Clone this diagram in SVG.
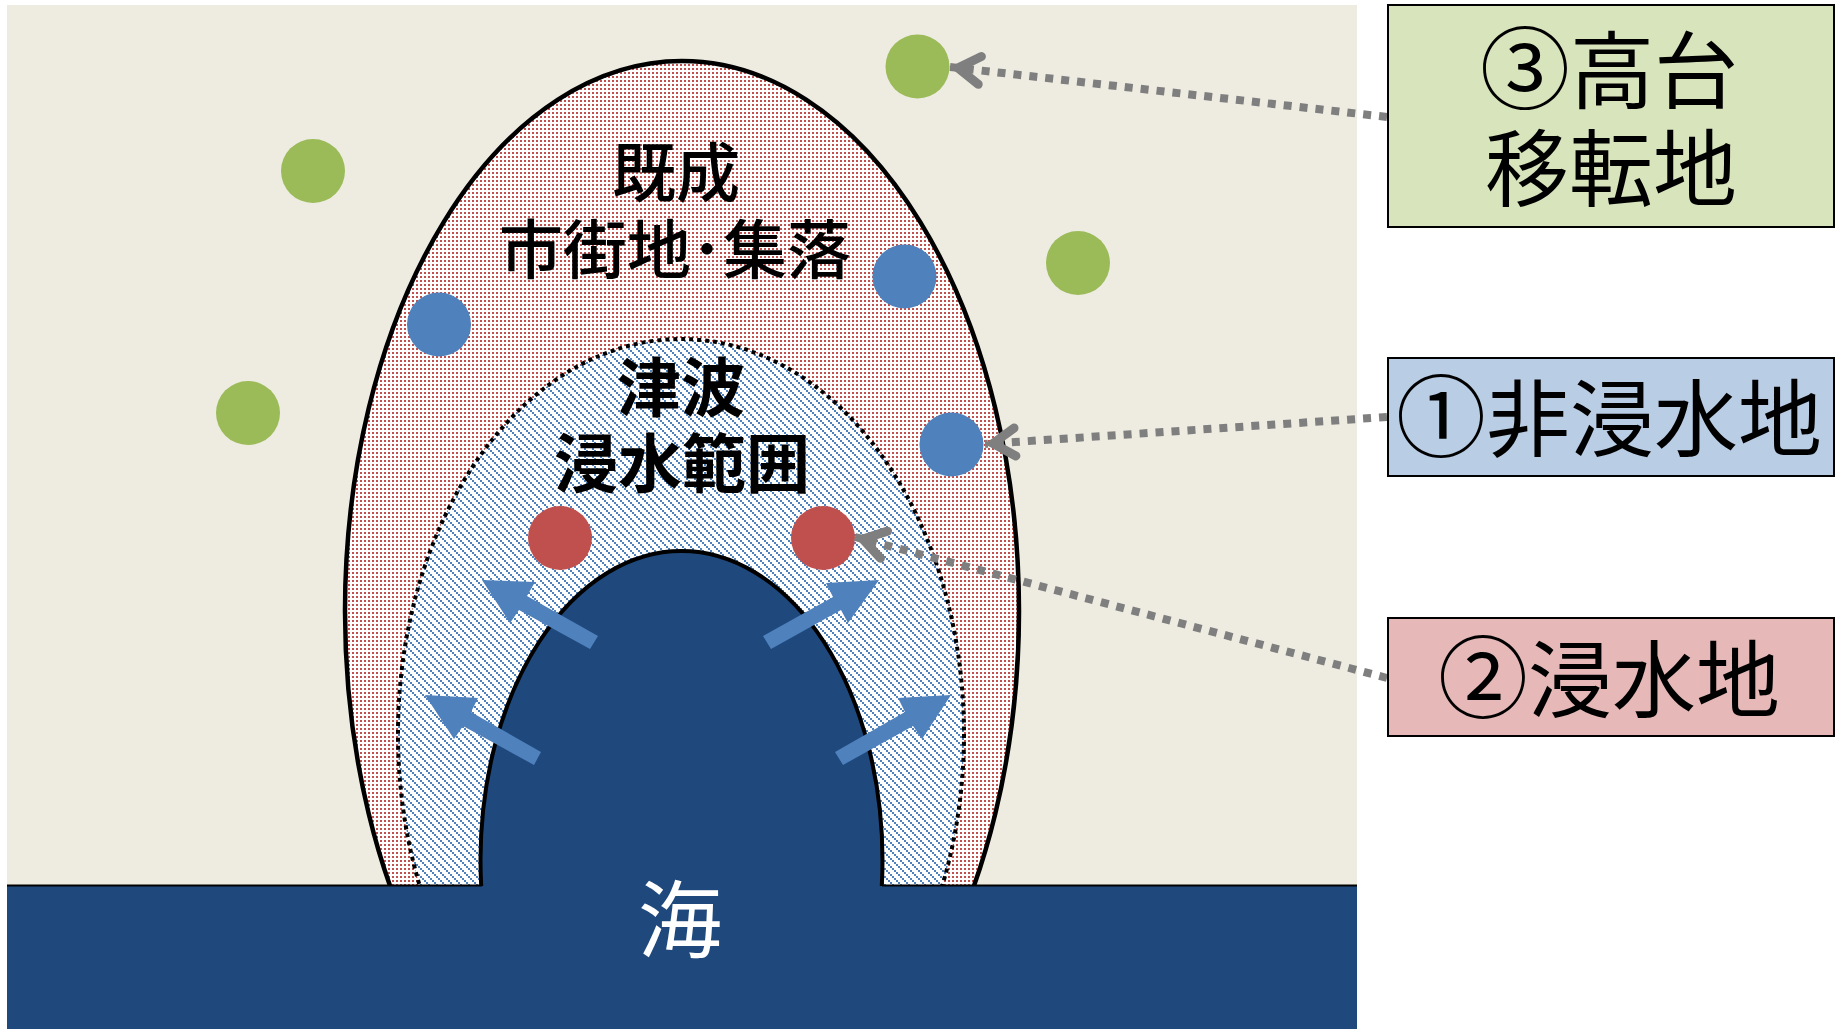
<svg xmlns="http://www.w3.org/2000/svg" width="1841" height="1029" viewBox="0 0 1841 1029">
<style>
.jp{font-family:"Noto Sans CJK JP","Noto Sans CJK SC",sans-serif;text-anchor:middle;fill:#000}
.lbl{font-size:84px}
.circ{font-size:90px}
.med{font-size:64px;font-weight:500}
.bold{font-size:64px;font-weight:700}
.box{stroke:#000;stroke-width:2}
.flow{fill:#4f81bd}
.conn{fill:none;stroke:#7f7f7f;stroke-width:8;stroke-dasharray:8 8;marker-end:url(#vee)}
.g{fill:#9bbb59}.b{fill:#4f81bd}.r{fill:#c0504d}
</style>
<defs>
<pattern id="dots" width="4" height="4" patternUnits="userSpaceOnUse">
<rect width="4" height="4" fill="#fff"/>
<rect x="0" y="0" width="2" height="2" fill="#c0504d"/>
</pattern>
<pattern id="hatch" width="8" height="8" patternUnits="userSpaceOnUse">
<rect width="8" height="8" fill="#fff"/>
<path d="M0 0h2v2h-2zM2 2h2v2h-2zM4 4h2v2h-2zM6 6h2v2h-2z" fill="#4f81bd"/>
</pattern>
<clipPath id="land"><rect x="0" y="0" width="1400" height="886"/></clipPath>
<marker id="vee" markerUnits="userSpaceOnUse" markerWidth="50" markerHeight="50" refX="0" refY="0" orient="auto" overflow="visible">
<path d="M-30 -14L-8 0L-30 14" fill="none" stroke="#7f7f7f" stroke-width="9" stroke-linecap="round" stroke-linejoin="miter" stroke-miterlimit="10"/>
</marker>
</defs>
<rect x="0" y="0" width="1841" height="1029" fill="#fff"/>
<g id="land-bg"><rect x="7" y="5" width="1350" height="881" fill="#eeece1"/></g>
<g id="town" clip-path="url(#land)">
<ellipse cx="682" cy="611" rx="337" ry="550" fill="url(#dots)" stroke="#000" stroke-width="4.500"/>
</g>
<g id="inundation" clip-path="url(#land)">
<ellipse cx="681" cy="734" rx="283" ry="395" fill="url(#hatch)" stroke="#000" stroke-width="4" stroke-dasharray="4 4"/>
</g>
<g id="bay" clip-path="url(#land)">
<ellipse cx="681.500" cy="860" rx="201" ry="309" fill="#1f497d" stroke="#000" stroke-width="4"/>
</g>
<g id="sea">
<rect x="7" y="886" width="1350" height="143" fill="#1f497d"/>
<path d="M7 885.500H482M882 885.500H1357" stroke="#000" stroke-width="2" fill="none"/>
<text class="jp" x="680" y="951" font-size="84" style="fill:#fff">海</text>
</g>
<g id="flow-arrows">
<polygon class="flow" points="482,580 535,582 527,596 598,636 590,649 519,610 510,623"/>
<polygon class="flow" points="425,695 478,698 471,712 541,752 534,765 463,726 454,739"/>
<polygon class="flow" points="879,580 826,583 833,597 763,636 771,649 841,610 848,623"/>
<polygon class="flow" points="951,695 898,698 905,712 835,752 843,765 913,726 922,739"/>
</g>
<g id="town-label"><text class="jp med" x="676" y="196">既成</text><text class="jp med" x="675" y="273">市街地･集落</text></g>
<g id="inundation-label"><text class="jp bold" x="681" y="411">津波</text><text class="jp bold" x="682" y="487">浸水範囲</text></g>
<g id="points">
<circle class="g" cx="917.500" cy="66.500" r="32"/>
<circle class="g" cx="313" cy="171" r="32"/>
<circle class="g" cx="1078" cy="263" r="32"/>
<circle class="g" cx="248" cy="413" r="32"/>
<circle class="b" cx="904.500" cy="276.500" r="32"/>
<circle class="b" cx="439" cy="324.500" r="32"/>
<circle class="b" cx="951.500" cy="444.500" r="32"/>
<circle class="r" cx="560" cy="538" r="32"/>
<circle class="r" cx="823" cy="538" r="32"/>
</g>
<g id="connectors">
<line class="conn" x1="1387" y1="117" x2="950" y2="67"/>
<line class="conn" x1="1387" y1="417" x2="985" y2="444"/>
<line class="conn" x1="1387" y1="678" x2="855" y2="537"/>
</g>
<g id="box-3"><rect class="box" x="1388" y="5" width="446" height="222" fill="#d8e4bc"/><text class="jp lbl" x="1609" y="102"><tspan class="circ">③</tspan>高台</text><text class="jp lbl" x="1611" y="200">移転地</text></g>
<g id="box-1"><rect class="box" x="1388" y="358" width="446" height="118" fill="#b9cde5"/><text class="jp lbl" x="1609" y="450"><tspan class="circ">①</tspan>非浸水地</text></g>
<g id="box-2"><rect class="box" x="1388" y="618" width="446" height="118" fill="#e6b9b8"/><text class="jp lbl" x="1609" y="711"><tspan class="circ">②</tspan>浸水地</text></g>
</svg>
